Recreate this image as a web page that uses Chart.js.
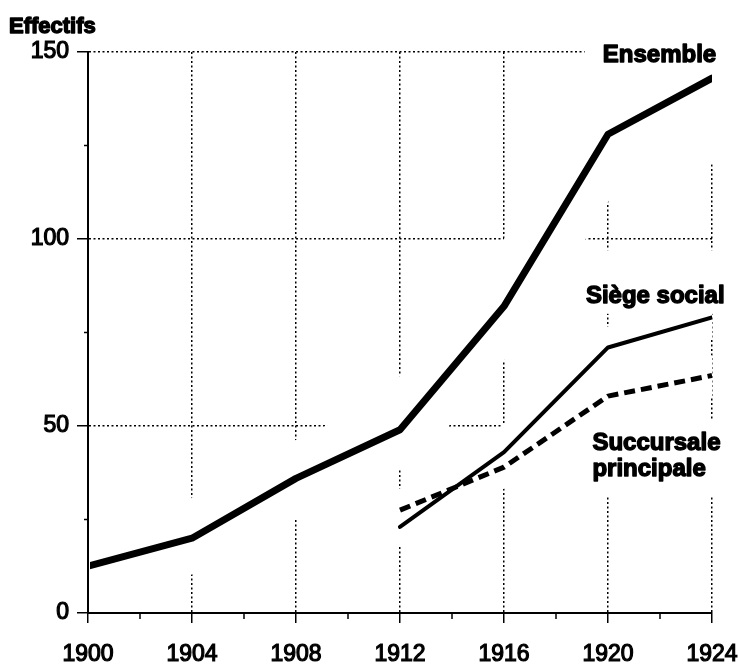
<!DOCTYPE html>
<html>
<head>
<meta charset="utf-8">
<script src="https://cdn.jsdelivr.net/npm/chart.js@4"></script>
<style>
  html, body { margin: 0; padding: 0; background: #fff; }
  #wrap { width: 739px; height: 664px; position: relative; }
</style>
</head>
<body>
<div id="wrap"><canvas id="chart"></canvas></div>
<script>
const years = [1900, 1904, 1908, 1912, 1916, 1920, 1924];
const ensemble = [12.5, 20, 36, 49, 82, 128, 143];
const siegeSocial = [null, null, null, 23, 43, 71, 79];
const succursale = [null, null, null, 27.5, 39, 58, 63.5];
const yTicks = [0, 50, 100, 150];

const FONT = '"Liberation Sans", Arial, Helvetica, sans-serif';

const toPoints = vals => years
    .map((yr, i) => ({ x: yr, y: vals[i] }))
    .filter(p => p.y !== null);

const lineSet = (label, vals, width, dash) => ({
    label,
    data: toPoints(vals),
    borderColor: '#000',
    borderWidth: width,
    borderDash: dash || [],
    borderCapStyle: dash ? 'butt' : 'round',
    borderJoinStyle: 'round',
    pointRadius: 0,
    tension: 0,
    order: 0,
    clip: { left: -2, top: 0, right: 0, bottom: -2 }
});

// white band under each curve, the grid is broken around the lines
const haloSet = (vals, width) => ({
    label: 'halo',
    data: toPoints(vals),
    borderColor: '#fff',
    borderWidth: width,
    borderCapStyle: 'round',
    borderJoinStyle: 'round',
    pointRadius: 0,
    tension: 0,
    order: 10,
    clip: { left: -2, top: 0, right: 0, bottom: -2 }
});

const notes = [
    { text: 'Ensemble', x: 1919.8, y: 147.4, box: [1919.1, 152, 1925, 120] },
    { text: 'Siège social', x: 1919.15, y: 83, box: [1918.7, 97, 1925, 80] },
    { text: 'Succursale', x: 1919.4, y: 43.7, box: [1919.0, 51.5, 1925, 31] },
    { text: 'principale', x: 1919.4, y: 36.7 }
];

const decor = {
    id: 'decor',
    beforeDatasetsDraw(chart) {
        const { ctx, scales: { x, y } } = chart;
        ctx.save();
        ctx.fillStyle = '#fff';
        notes.forEach(n => {
            if (!n.box) return;
            const x1 = x.getPixelForValue(n.box[0]);
            const x2 = x.getPixelForValue(n.box[2]);
            const y1 = y.getPixelForValue(n.box[1]);
            const y2 = y.getPixelForValue(n.box[3]);
            ctx.fillRect(x1, y1, x2 - x1, y2 - y1);
        });
        ctx.restore();
    },
    afterDatasetsDraw(chart) {
        const { ctx, scales: { x, y } } = chart;
        ctx.save();
        ctx.fillStyle = '#000';
        ctx.strokeStyle = '#000';
        ctx.lineWidth = 1.4;
        ctx.lineJoin = 'round';
        ctx.textBaseline = 'alphabetic';
        ctx.textAlign = 'left';
        ctx.font = 'bold 24px ' + FONT;
        notes.forEach(n => {
            const px = x.getPixelForValue(n.x);
            const py = y.getPixelForValue(n.y);
            ctx.fillText(n.text, px, py);
            ctx.strokeText(n.text, px, py);
        });
        ctx.font = 'bold 22px ' + FONT;
        ctx.fillText('Effectifs', 9, 33);
        ctx.strokeText('Effectifs', 9, 33);

        // minor ticks
        ctx.lineWidth = 1.5;
        ctx.beginPath();
        for (let yr = 1902; yr < 1924; yr += 4) {
            const px = x.getPixelForValue(yr);
            ctx.moveTo(px, y.bottom);
            ctx.lineTo(px, y.bottom + 6);
        }
        for (let v = 25; v < 150; v += 50) {
            const py = y.getPixelForValue(v);
            ctx.moveTo(x.left, py);
            ctx.lineTo(x.left - 4, py);
        }
        ctx.stroke();
        ctx.restore();
    }
};

new Chart(document.getElementById('chart'), {
    type: 'line',
    data: {
        datasets: [
            lineSet('Ensemble', ensemble, 7),
            lineSet('Siège social', siegeSocial, 4),
            lineSet('Succursale principale', succursale, 5, [11, 6]),
            haloSet(ensemble, 70),
            haloSet(siegeSocial, 40),
            haloSet(succursale, 40)
        ]
    },
    options: {
        animation: false,
        responsive: true,
        maintainAspectRatio: false,
        layout: { padding: { top: 52, right: 27, left: 0, bottom: 0 } },
        plugins: {
            legend: { display: false },
            tooltip: { enabled: false }
        },
        scales: {
            x: {
                type: 'linear',
                min: years[0],
                max: years[years.length - 1],
                afterFit: s => {
                    s.height = 51;
                    s.paddingRight = 0;
                    s.paddingLeft = 0;
                },
                ticks: {
                    stepSize: 4,
                    color: '#000',
                    padding: 18,
                    font: { family: FONT, size: 23 },
                    textStrokeColor: '#000',
                    textStrokeWidth: 1.2,
                    callback: v => String(v),
                    maxRotation: 0
                },
                grid: {
                    color: '#000',
                    lineWidth: 1.5,
                    tickLength: 10,
                    tickColor: '#000',
                    tickWidth: 1.5
                },
                border: { display: true, color: '#000', width: 2, dash: [2, 2.5] }
            },
            y: {
                min: 0,
                max: 150,
                afterFit: s => { s.width = 88; },
                afterBuildTicks: s => { s.ticks = yTicks.map(v => ({ value: v })); },
                ticks: {
                    color: '#000',
                    padding: 8,
                    font: { family: FONT, size: 23 },
                    textStrokeColor: '#000',
                    textStrokeWidth: 1.2,
                    callback: v => String(v)
                },
                grid: {
                    color: '#000',
                    lineWidth: 1.5,
                    tickLength: 11,
                    tickColor: '#000',
                    tickWidth: 1.5
                },
                border: { display: true, color: '#000', width: 2, dash: [2, 2.5] }
            }
        }
    },
    plugins: [decor]
});
</script>
</body>
</html>
